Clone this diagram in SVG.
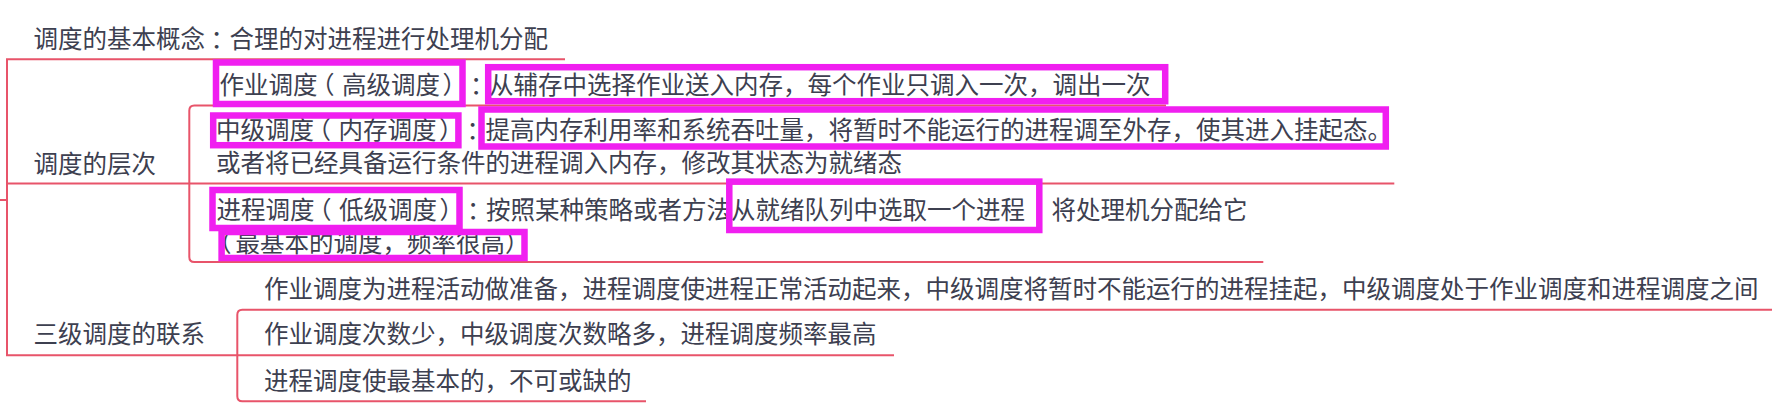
<svg xmlns="http://www.w3.org/2000/svg" width="1774" height="418" viewBox="0 0 1774 418">
<style>
  .t { font-family: "Noto Sans CJK SC", "Noto Sans", sans-serif; font-size: 24.5px; fill: #3d4050; text-spacing-trim: space-all; }
  .h { font-feature-settings: "halt" 1; }
  .ln { fill: none; stroke: #e8546a; stroke-width: 2; }
  .hl { fill: none; stroke: #f01ff0; stroke-width: 6.5; }
</style>
<rect width="1774" height="418" fill="#ffffff"/>
<g id="connectors">
  <path class="ln" d="M 0 200 H 7"/>
  <path class="ln" d="M 565 59.3 H 7 V 355.3 H 237.3"/>
  <path class="ln" d="M 7 183.5 H 189.3"/>
  <path class="ln" d="M 1166 105.5 H 194.3 Q 189.3 105.5 189.3 110.5 V 257 Q 189.3 262 194.3 262 H 1263.3"/>
  <path class="ln" d="M 189.3 183.5 H 1394.3"/>
  <path class="ln" d="M 1772 309.7 H 242.3 Q 237.3 309.7 237.3 314.7 V 396.3 Q 237.3 401.3 242.3 401.3 H 646"/>
  <path class="ln" d="M 237.3 355.3 H 894"/>
</g>
<g id="node-concept">
  <text class="t" y="47.5"><tspan x="33.5">调度的基本概念</tspan><tspan class="h" x="210.5">：</tspan><tspan x="229.5">合理的对进程进行处理机分配</tspan></text>
</g>
<g id="node-levels">
  <text class="t" x="33.5" y="172.5">调度的层次</text>
</g>
<g id="node-relation">
  <text class="t" x="33.5" y="343">三级调度的联系</text>
</g>
<g id="node-job">
  <text class="t" y="93.5"><tspan x="219.5">作业调度</tspan><tspan class="h" x="322.25">（</tspan><tspan x="342">高级调度</tspan><tspan class="h" x="442.5">）</tspan><tspan class="h" x="470">：</tspan><tspan x="489">从辅存中选择作业送入内存，每个作业只调入一次，调出一次</tspan></text>
  <rect class="hl" x="216" y="62.5" width="246.5" height="41.5"/>
  <rect class="hl" x="488.2" y="67.2" width="677" height="34"/>
</g>
<g id="node-mid">
  <text class="t" y="138.5"><tspan x="216">中级调度</tspan><tspan class="h" x="318.75">（</tspan><tspan x="338.5">内存调度</tspan><tspan class="h" x="439">）</tspan><tspan class="h" x="466.5">：</tspan><tspan x="485.5">提高内存利用率和系统吞吐量，将暂时不能运行的进程调至外存，使其进入挂起态。</tspan></text>
  <text class="t" x="216" y="172">或者将已经具备运行条件的进程调入内存，修改其状态为就绪态</text>
  <rect class="hl" x="213.2" y="115.5" width="245.2" height="29.7"/>
  <rect class="hl" x="481.5" y="109.5" width="904.3" height="37"/>
</g>
<g id="node-proc">
  <text class="t" y="218.5"><tspan x="216.5">进程调度</tspan><tspan class="h" x="319.25">（</tspan><tspan x="339">低级调度</tspan><tspan class="h" x="439.5">）</tspan><tspan class="h" x="467">：</tspan><tspan x="486">按照某种策略或者方法从就绪队列中选取一个进程</tspan></text>
  <text class="t" x="1051.5" y="218.5">将处理机分配给它</text>
  <text class="t" y="251.5"><tspan class="h" x="219.25">（</tspan><tspan x="235.5">最基本的调度，频率很高）</tspan></text>
  <rect class="hl" x="212.5" y="190" width="247" height="38"/>
  <rect class="hl" x="221.6" y="232" width="302.9" height="26"/>
  <rect class="hl" x="729.3" y="181.6" width="310" height="48.4"/>
</g>
<g id="node-rel-1">
  <text class="t" x="264" y="298">作业调度为进程活动做准备，进程调度使进程正常活动起来，中级调度将暂时不能运行的进程挂起，中级调度处于作业调度和进程调度之间</text>
</g>
<g id="node-rel-2">
  <text class="t" x="264" y="343">作业调度次数少，中级调度次数略多，进程调度频率最高</text>
</g>
<g id="node-rel-3">
  <text class="t" x="264" y="389.5">进程调度使最基本的，不可或缺的</text>
</g>
</svg>
